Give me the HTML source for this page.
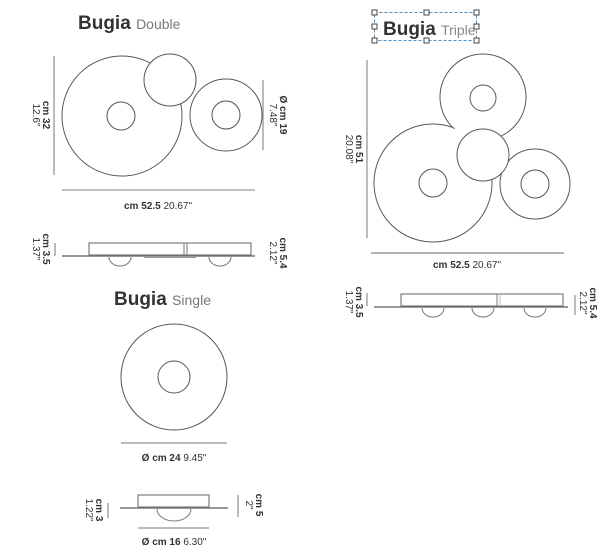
<!DOCTYPE html>
<html><head><style>body{margin:0;background:#fff}svg{display:block}</style></head><body>
<svg width="604" height="547" viewBox="0 0 604 547" xmlns="http://www.w3.org/2000/svg" font-family="'Liberation Sans',sans-serif">
<g fill="none" stroke="#555" stroke-width="1">
<circle cx="122" cy="116" r="60"/><circle cx="226" cy="115" r="36"/>
</g>
<g fill="#fff"><circle cx="122" cy="116" r="59.3"/><circle cx="226" cy="115" r="35.3"/></g>
<g fill="#fff" stroke="#555">
<circle cx="170" cy="80" r="26"/><circle cx="121" cy="116" r="14"/><circle cx="226" cy="115" r="14"/>
</g>
<g stroke="#777" fill="none">
<line x1="54" y1="56" x2="54" y2="175"/><line x1="263" y1="80" x2="263" y2="150"/>
<line x1="62" y1="190" x2="255" y2="190" stroke="#aaa" stroke-width="1.5"/>
<line x1="62" y1="256" x2="255" y2="256" stroke-width="1.5"/>
<rect x="89" y="243" width="162" height="12" stroke="#666"/>
<line x1="184" y1="243" x2="184" y2="255"/><line x1="187" y1="243" x2="187" y2="255"/>
<path d="M109 257 A11 9 0 0 0 131 257 M209 257 A11 9 0 0 0 231 257"/>
<line x1="144" y1="257" x2="196" y2="257" stroke="#999" stroke-width="2"/>
<line x1="55" y1="243" x2="55" y2="256"/>
</g>
<text x="78" y="29" font-size="19" font-weight="bold" fill="#333">Bugia <tspan font-size="14" font-weight="normal" fill="#777">Double</tspan></text>
<text x="158" y="209" font-size="10" text-anchor="middle" fill="#333"><tspan font-weight="bold">cm 52.5</tspan>  20.67"</text>
<g font-size="10" fill="#333">
<text transform="translate(43,115) rotate(90)" text-anchor="middle" font-weight="bold">cm 32</text>
<text transform="translate(33,115) rotate(90)" text-anchor="middle">12.6"</text>
<text transform="translate(280,115) rotate(90)" text-anchor="middle" font-weight="bold">Ø cm 19</text>
<text transform="translate(270,115) rotate(90)" text-anchor="middle">7.48"</text>
<text transform="translate(43,249) rotate(90)" text-anchor="middle" font-weight="bold">cm 3.5</text>
<text transform="translate(33,249) rotate(90)" text-anchor="middle">1.37"</text>
<text transform="translate(280,253) rotate(90)" text-anchor="middle" font-weight="bold">cm 5.4</text>
<text transform="translate(270,253) rotate(90)" text-anchor="middle">2.12"</text>
</g>
<g fill="none" stroke="#555"><circle cx="433" cy="183" r="59"/><circle cx="483" cy="97" r="43"/><circle cx="535" cy="184" r="35"/></g>
<g fill="#fff"><circle cx="433" cy="183" r="58.3"/><circle cx="483" cy="97" r="42.3"/><circle cx="535" cy="184" r="34.3"/></g>
<g fill="#fff" stroke="#555">
<circle cx="483" cy="155" r="26"/><circle cx="483" cy="98" r="13"/><circle cx="433" cy="183" r="14"/><circle cx="535" cy="184" r="14"/>
</g>
<rect x="374.5" y="12.5" width="102" height="28" fill="none" stroke="#4a90c8" stroke-dasharray="3,2"/>
<g fill="#fff" stroke="#444"><rect x="372" y="10" width="5" height="5"/><rect x="424" y="10" width="5" height="5"/><rect x="474" y="10" width="5" height="5"/><rect x="372" y="24" width="5" height="5"/><rect x="474" y="24" width="5" height="5"/><rect x="372" y="38" width="5" height="5"/><rect x="424" y="38" width="5" height="5"/><rect x="474" y="38" width="5" height="5"/></g>
<text x="383" y="35" font-size="19" font-weight="bold" fill="#333">Bugia <tspan font-size="14" font-weight="normal" fill="#888">Triple</tspan></text>
<g stroke="#777" fill="none">
<line x1="367" y1="60" x2="367" y2="238"/>
<line x1="371" y1="253" x2="564" y2="253" stroke-width="1.5" stroke="#999"/>
<line x1="374" y1="307" x2="568" y2="307" stroke-width="1.5"/>
<rect x="401" y="294" width="162" height="12" stroke="#666"/>
<line x1="497" y1="294" x2="497" y2="306"/><line x1="500" y1="294" x2="500" y2="306" stroke="#bbb"/>
<path d="M422 308 A11 9 0 0 0 444 308 M472 308 A11 9 0 0 0 494 308 M524 308 A11 9 0 0 0 546 308"/>
<line x1="367" y1="293" x2="367" y2="306"/><line x1="575" y1="295" x2="575" y2="315"/>
</g>
<text x="467" y="268" font-size="10" text-anchor="middle" fill="#333"><tspan font-weight="bold">cm 52.5</tspan>  20.67"</text>
<g font-size="10" fill="#333">
<text transform="translate(356,149) rotate(90)" text-anchor="middle" font-weight="bold">cm 51</text>
<text transform="translate(346,149) rotate(90)" text-anchor="middle">20.08"</text>
<text transform="translate(356,302) rotate(90)" text-anchor="middle" font-weight="bold">cm 3.5</text>
<text transform="translate(346,302) rotate(90)" text-anchor="middle">1.37"</text>
<text transform="translate(590,303) rotate(90)" text-anchor="middle" font-weight="bold">cm 5.4</text>
<text transform="translate(580,303) rotate(90)" text-anchor="middle">2.12"</text>
</g>
<text x="114" y="305" font-size="19" font-weight="bold" fill="#333">Bugia <tspan font-size="14" font-weight="normal" fill="#777">Single</tspan></text>
<g fill="none" stroke="#555"><circle cx="174" cy="377" r="53"/><circle cx="174" cy="377" r="16"/></g>
<g stroke="#777" fill="none">
<line x1="121" y1="443" x2="227" y2="443"/>
<rect x="138" y="495" width="71" height="12" stroke="#666"/>
<line x1="120" y1="508" x2="228" y2="508" stroke-width="1.5"/>
<path d="M157 509 A17 12 0 0 0 191 509"/>
<line x1="138" y1="528" x2="209" y2="528"/>
<line x1="108" y1="503" x2="108" y2="518"/><line x1="238" y1="495" x2="238" y2="517"/>
</g>
<text x="174" y="461" font-size="10" text-anchor="middle" fill="#333"><tspan font-weight="bold">Ø cm 24</tspan>  9.45"</text>
<text x="174" y="545" font-size="10" text-anchor="middle" fill="#333"><tspan font-weight="bold">Ø cm 16</tspan>  6.30"</text>
<g font-size="10" fill="#333">
<text transform="translate(96,510) rotate(90)" text-anchor="middle" font-weight="bold">cm 3</text>
<text transform="translate(86,510) rotate(90)" text-anchor="middle">1.22"</text>
<text transform="translate(256,505) rotate(90)" text-anchor="middle" font-weight="bold">cm 5</text>
<text transform="translate(246,505) rotate(90)" text-anchor="middle">2"</text>
</g>
</svg>
</body></html>
